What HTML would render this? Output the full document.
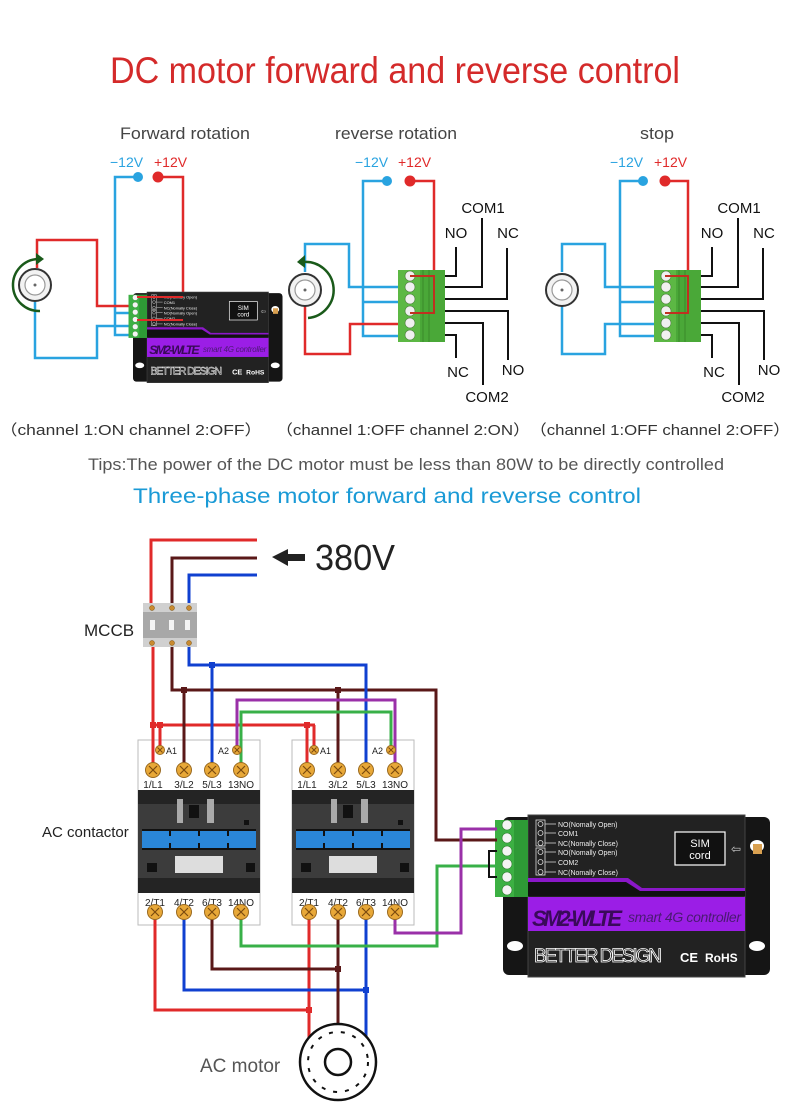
<!DOCTYPE html>
<html><head><meta charset="utf-8"><style>
html,body{margin:0;padding:0;background:#fff}
svg{display:block}
text{font-family:"Liberation Sans",sans-serif}
</style></head><body>
<svg width="790" height="1108" viewBox="0 0 790 1108" xmlns="http://www.w3.org/2000/svg">
<defs>
<g id="ctrl">
  <rect x="503" y="817" width="267" height="158" rx="6" fill="#151515"/>
  <rect x="528" y="815" width="217" height="162" fill="#222" stroke="#444"/>
  <ellipse cx="515" cy="946" rx="8" ry="5" fill="#fff"/>
  <ellipse cx="757" cy="946" rx="8" ry="5" fill="#fff"/>
  <ellipse cx="757" cy="846" rx="7" ry="6" fill="#fff"/>
  <rect x="753" y="844" width="9" height="10" fill="#d9a050"/>
  <g fill="none" stroke="#ddd" stroke-width="0.8">
    <rect x="536" y="820" width="9" height="26"/><rect x="536" y="848" width="9" height="27"/>
    <circle cx="540.5" cy="824" r="2.5"/><circle cx="540.5" cy="833" r="2.5"/><circle cx="540.5" cy="843" r="2.5"/>
    <circle cx="540.5" cy="852" r="2.5"/><circle cx="540.5" cy="862" r="2.5"/><circle cx="540.5" cy="872" r="2.5"/>
    <path d="M545,824H556M545,833H556M545,843H556M545,852H556M545,862H556M545,872H556"/>
  </g>
  <g fill="#eee" font-size="7">
    <text x="558" y="827">NO(Nomally Open)</text><text x="558" y="836">COM1</text>
    <text x="558" y="846">NC(Nomally Close)</text><text x="558" y="855">NO(Nomally Open)</text>
    <text x="558" y="865">COM2</text><text x="558" y="875">NC(Nomally Close)</text>
  </g>
  <rect x="675" y="832" width="50" height="33" fill="#111" stroke="#fff" stroke-width="1.2"/>
  <text x="700" y="847" fill="#fff" font-size="11" text-anchor="middle">SIM</text>
  <text x="700" y="859" fill="#fff" font-size="11" text-anchor="middle">cord</text>
  <text x="731" y="853" fill="#ccc" font-size="12">⇦</text>
  <path d="M528,881H628L642,891H745V896H528Z" fill="#111"/>
  <path d="M528,878H628L642,888H745V891H640L626,882H528Z" fill="#8a18c8"/>
  <rect x="528" y="897" width="217" height="34" fill="#9b1ee6"/>
  <text x="532" y="926" fill="#3a0a5a" font-size="22" font-weight="bold" font-style="italic" textLength="90">SM2-WLTE</text>
  <text x="628" y="922" fill="#4a1a72" font-size="14" font-style="italic" textLength="113">smart 4G controller</text>
  <text x="534" y="962" fill="#222" stroke="#fff" stroke-width="0.8" font-size="19" textLength="128">BETTER DESIGN</text>
  <text x="680" y="962" fill="#fff" font-size="13" font-weight="bold">CE</text>
  <text x="705" y="962" fill="#fff" font-size="12" font-weight="bold">RoHS</text>
  <rect x="495" y="820" width="33" height="77" fill="#3cb043"/>
  <rect x="514" y="820" width="14" height="77" fill="#2e9a36"/>
  <g fill="#f4f4f4" stroke="#2a7a2a" stroke-width="0.6">
    <circle cx="507" cy="825" r="5"/><circle cx="507" cy="838" r="5"/><circle cx="507" cy="851" r="5"/>
    <circle cx="507" cy="864" r="5"/><circle cx="507" cy="877" r="5"/><circle cx="507" cy="890" r="5"/>
  </g>
</g>
<g id="tb">
  <rect x="0" y="0" width="22" height="72" fill="#5cb844"/>
  <rect x="22" y="0" width="25" height="72" fill="#4aa838"/>
  <path d="M25,0V72M31,0V72" stroke="#3a8a2a" stroke-width="1"/>
  <g fill="#f0f0f0" stroke="#4a7a3a" stroke-width="0.6">
    <circle cx="12" cy="6" r="5"/><circle cx="12" cy="17" r="5"/><circle cx="12" cy="29" r="5"/>
    <circle cx="12" cy="41" r="5"/><circle cx="12" cy="53" r="5"/><circle cx="12" cy="65" r="5"/>
  </g>
</g>
<g id="leads" fill="none" stroke="#111" stroke-width="2">
  <path d="M445,276H456V247M445,287H482V218M445,299H507V248M445,311H508V360M445,323H483V385M445,335H456V358"/>
</g>
<g id="leadtxt" font-size="15" fill="#111" text-anchor="middle">
  <text x="456" y="238">NO</text><text x="483" y="213">COM1</text><text x="508" y="238">NC</text>
  <text x="513" y="375">NO</text><text x="487" y="402">COM2</text><text x="458" y="377">NC</text>
</g>
<g id="dcm">
  <circle r="16" fill="#f2f2f2" stroke="#333" stroke-width="2"/>
  <circle r="10" fill="#fff" stroke="#999" stroke-width="1.2"/>
  <circle r="1.5" fill="#666"/>
</g>
<g id="cbody">
  <rect x="0" y="0" width="122" height="185" fill="#fff" stroke="#bbb"/>
  <rect x="0" y="50" width="122" height="103" fill="#3c3c3c"/>
  <rect x="0" y="50" width="122" height="14" fill="#242424"/>
  <rect x="0" y="138" width="122" height="15" fill="#242424"/>
  <rect x="39" y="59" width="6" height="24" fill="#aaa"/>
  <rect x="69" y="59" width="7" height="24" fill="#aaa"/>
  <rect x="51" y="65" width="10" height="13" fill="#111"/>
  <rect x="106" y="80" width="5" height="5" fill="#111"/>
  <rect x="4" y="89" width="114" height="21" fill="#111"/>
  <rect x="4" y="91" width="114" height="17" fill="#2a86d8"/>
  <path d="M32,91V96M61,91V96M90,91V96M32,108V103M61,108V103M90,108V103" stroke="#111" stroke-width="2"/>
  <rect x="37" y="116" width="48" height="17" fill="#ddd"/>
  <rect x="9" y="123" width="10" height="9" fill="#111"/>
  <rect x="108" y="123" width="9" height="9" fill="#111"/>
  <g font-size="10" fill="#222" text-anchor="middle">
    <text x="15" y="48">1/L1</text><text x="46" y="48">3/L2</text><text x="74" y="48">5/L3</text><text x="103" y="48">13NO</text>
    <text x="17" y="166">2/T1</text><text x="46" y="166">4/T2</text><text x="74" y="166">6/T3</text><text x="103" y="166">14NO</text>
  </g>
  <text x="28" y="14" font-size="9" fill="#222">A1</text>
  <text x="80" y="14" font-size="9" fill="#222">A2</text>
</g>
<g id="term"><circle r="7.5" fill="#e8a838" stroke="#9a6a20"/><path d="M-4,-4L4,4M4,-4L-4,4" stroke="#7a4a10" stroke-width="1.2"/></g>
<g id="sterm"><circle r="4.5" fill="#e8a838" stroke="#9a6a20"/><path d="M-2.5,-2.5L2.5,2.5M2.5,-2.5L-2.5,2.5" stroke="#7a4a10"/></g>
<g id="cterms">
  <use href="#sterm" x="22" y="10"/><use href="#sterm" x="99" y="10"/>
  <use href="#term" x="15" y="30"/><use href="#term" x="46" y="30"/><use href="#term" x="74" y="30"/><use href="#term" x="103" y="30"/>
  <use href="#term" x="17" y="172"/><use href="#term" x="46" y="172"/><use href="#term" x="74" y="172"/><use href="#term" x="103" y="172"/>
</g>
</defs>

<!-- titles -->
<text x="110" y="83" font-size="37" fill="#d42a2a" textLength="570" lengthAdjust="spacingAndGlyphs">DC motor forward and reverse control</text>
<g font-size="17" fill="#444">
<text x="120" y="139" textLength="130" lengthAdjust="spacingAndGlyphs">Forward rotation</text>
<text x="335" y="139" textLength="122" lengthAdjust="spacingAndGlyphs">reverse rotation</text>
<text x="640" y="139" textLength="34" lengthAdjust="spacingAndGlyphs">stop</text>
</g>
<g font-size="14">
<text x="110" y="167" fill="#29a3e0">−12V</text><text x="154" y="167" fill="#e02a2a">+12V</text>
<text x="355" y="167" fill="#29a3e0">−12V</text><text x="398" y="167" fill="#e02a2a">+12V</text>
<text x="610" y="167" fill="#29a3e0">−12V</text><text x="654" y="167" fill="#e02a2a">+12V</text>
</g>

<!-- diagram 1 -->
<g fill="none" stroke-width="2.5">
<path d="M138,177H115V335H130M115,313H130M35,302V358H97V326H130" stroke="#29a3e0"/>
<path d="M158,177H183V320H137M183,297H137M37,268V240H97V306H130" stroke="#e02a2a"/>
</g>
<use href="#ctrl" transform="translate(133,292) scale(0.56) translate(-503,-815)"/>
<path d="M183,297H137M183,320H137" stroke="#e02a2a" stroke-width="2"/>
<circle cx="138" cy="177" r="5" fill="#29a3e0"/><circle cx="158" cy="177" r="5.5" fill="#e02a2a"/>
<use href="#dcm" x="35" y="285"/>
<path d="M38,259A26,26 0 1 0 40,311" fill="none" stroke="#1a5a1a" stroke-width="2.5"/>
<path d="M36,253L44,259L36,265Z" fill="#1a5a1a"/>

<!-- diagram 2 -->
<g fill="none" stroke-width="2.5">
<path d="M387,181H363V336H400M363,302H400M305,272V244H349V287H400" stroke="#29a3e0"/>
<path d="M410,181H434V313H410M410,276H434M305,306V354H350V324H400" stroke="#e02a2a"/>
</g>
<use href="#tb" x="398" y="270"/>
<path d="M410,276H434V313H410" fill="none" stroke="#c03020" stroke-width="2"/>
<use href="#leads"/><use href="#leadtxt"/>
<circle cx="387" cy="181" r="5" fill="#29a3e0"/><circle cx="410" cy="181" r="5.5" fill="#e02a2a"/>
<use href="#dcm" x="305" y="290"/>
<path d="M303,262A28,28 0 1 1 308,318" fill="none" stroke="#1a5a1a" stroke-width="2.5"/>
<path d="M305,255L297,262L305,268Z" fill="#1a5a1a"/>

<!-- diagram 3 -->
<g fill="none" stroke-width="2.5">
<path d="M643,181H620V336H655M620,302H655M562,272V244H605V287H655M562,306V354H605V324H655" stroke="#29a3e0"/>
<path d="M665,181H688V313H665M665,276H688" stroke="#e02a2a"/>
</g>
<use href="#tb" x="654" y="270"/>
<path d="M665,276H688V313H665" fill="none" stroke="#c03020" stroke-width="2"/>
<use href="#leads" x="256"/><use href="#leadtxt" x="256"/>
<circle cx="643" cy="181" r="5" fill="#29a3e0"/><circle cx="665" cy="181" r="5.5" fill="#e02a2a"/>
<use href="#dcm" x="562" y="290"/>

<g font-size="15" fill="#333">
<text x="0" y="435" textLength="262" lengthAdjust="spacingAndGlyphs">（channel 1:ON   channel 2:OFF）</text>
<text x="276" y="435" textLength="254" lengthAdjust="spacingAndGlyphs">（channel 1:OFF   channel 2:ON）</text>
<text x="530" y="435" textLength="260" lengthAdjust="spacingAndGlyphs">（channel 1:OFF   channel 2:OFF）</text>
</g>
<text x="88" y="470" font-size="17" fill="#555" textLength="636" lengthAdjust="spacingAndGlyphs">Tips:The power of the DC motor must be less than 80W to be directly controlled</text>
<text x="133" y="503" font-size="21" fill="#1a9ad6" textLength="508" lengthAdjust="spacingAndGlyphs">Three-phase motor forward and reverse control</text>

<!-- three-phase -->
<path d="M272,557L288,549V554H305V561H288V566Z" fill="#222"/>
<text x="315" y="570" font-size="36" fill="#222" textLength="80" lengthAdjust="spacingAndGlyphs">380V</text>
<text x="84" y="636" font-size="17" fill="#222">MCCB</text>
<text x="42" y="837" font-size="15" fill="#222">AC contactor</text>
<text x="200" y="1072" font-size="19" fill="#555">AC motor</text>

<use href="#cbody" x="138" y="740"/>
<use href="#cbody" x="292" y="740"/>
<use href="#ctrl"/>

<g fill="none" stroke-width="3">
<path d="M151,608V540H257M153,643V770M153,725H315M160,725V750M307,725V770M314,725V750" stroke="#e02a2a"/>
<path d="M172,608V558H257M172,643V690H436V840H497M184,690V770M338,690V770" stroke="#5a1818"/>
<path d="M189,608V575H257M189,643V665H366V770M212,665V770" stroke="#1040d0"/>
<path d="M237,750V700H395V770" stroke="#9a30a8"/>
<path d="M241,770V712H391V750" stroke="#38b048"/>
<path d="M155,912V1010H309M309,912V1040" stroke="#e02a2a"/>
<path d="M184,912V990H366M366,912V1037" stroke="#1040d0"/>
<path d="M212,912V969H338M338,912V1025" stroke="#5a1818"/>
<path d="M241,912V946H437V866H497" stroke="#38b048"/>
<path d="M395,912V933H461V829H497" stroke="#9a30a8"/>
<path d="M497,851H489V877H497" stroke="#111" stroke-width="2"/>
</g>
<g>
<rect x="150" y="722" width="6" height="6" fill="#e02a2a"/><rect x="157" y="722" width="6" height="6" fill="#e02a2a"/>
<rect x="304" y="722" width="6" height="6" fill="#e02a2a"/>
<rect x="181" y="687" width="6" height="6" fill="#5a1818"/><rect x="335" y="687" width="6" height="6" fill="#5a1818"/>
<rect x="209" y="662" width="6" height="6" fill="#1040d0"/>
<rect x="306" y="1007" width="6" height="6" fill="#e02a2a"/><rect x="363" y="987" width="6" height="6" fill="#1040d0"/>
<rect x="335" y="966" width="6" height="6" fill="#5a1818"/>
</g>
<use href="#cterms" x="138" y="740"/>
<use href="#cterms" x="292" y="740"/>

<rect x="143" y="603" width="54" height="44" fill="#d0d0d0"/>
<rect x="143" y="612" width="54" height="26" fill="#a8a8a8"/>
<g fill="#f4f4f4"><rect x="150" y="620" width="5" height="10"/><rect x="169" y="620" width="5" height="10"/><rect x="185" y="620" width="5" height="10"/></g>
<g fill="#c88a30" stroke="#7a5010" stroke-width="0.5">
<circle cx="152" cy="608" r="2.5"/><circle cx="172" cy="608" r="2.5"/><circle cx="189" cy="608" r="2.5"/>
<circle cx="152" cy="643" r="2.5"/><circle cx="172" cy="643" r="2.5"/><circle cx="189" cy="643" r="2.5"/>
</g>

<circle cx="338" cy="1062" r="38" fill="#fff" stroke="#111" stroke-width="2.5"/>
<circle cx="338" cy="1062" r="30" fill="none" stroke="#111" stroke-width="2" stroke-dasharray="4 8"/>
<circle cx="338" cy="1062" r="13" fill="none" stroke="#111" stroke-width="2.5"/>
</svg>
</body></html>
